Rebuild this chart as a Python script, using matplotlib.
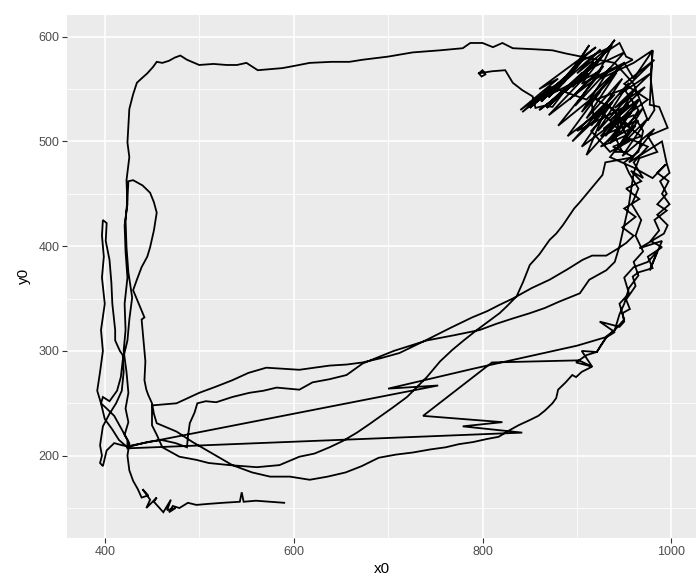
import numpy as np
import matplotlib
matplotlib.use("Agg")
import matplotlib.pyplot as plt

# ---- data: trajectory, in path order ----
seg_start = [(796,565),(799,562),(803,564),(800,568),(796,565),(810,567),(824,568),(828,562),(832,556),
             (842,549),(853,543),(856,532),(865,534),(874,533),
             (890,552),(868,532),(900,560),(872,538),(906,566),(878,540),(912,570),(884,546),(918,576),
             (888,548),(925,580),(895,552),(930,585),(900,556),(922,566),(892,540),(928,572),(898,534),
             (935,570),(905,528),(942,566),(910,522),(948,560),(915,515),(955,556),(922,510),(960,548),
             (930,505),(966,540),(935,498),(970,532),(942,492),(975,522),(948,486),(982,512),(955,480),
             (990,500),(995,479)]

seg_curve_b = [(998,470),(988,462),(995,450),(985,440),(995,434),(982,425),(987,415),(978,405),(990,399),
               (975,390),(980,379),(965,375),(959,371),(962,362),(959,358),(952,349),(956,340),(948,336),
               (950,328),(945,323),(924,328),(940,318),(931,313),(925,305),(921,299),(910,296),(899,289),
               (916,285),(905,280),(899,275),(895,277),(888,270),(880,263),(878,255),(874,250),(866,243),
               (859,238),(850,234),(838,229),(828,224),(817,218),(805,216),(790,213),(775,211),(761,208),
               (745,206),(726,203),(708,201),(690,198),(672,190),(655,184),(636,180),(617,177),(596,180),
               (575,180),(556,184),(535,191),(514,202),(493,213),(476,223),(463,228),(455,231)]

seg_left1 = [(452,240),(450,250),(446,258),(444,263),(442,272),(443,290),(441,310),(439,330),(442,332),
             (436,345),(430,358),(434,368),(439,380),(445,390),(448,399),(452,415),(455,432),(452,442),
             (448,451),(440,458),(430,463),(425,462),(424,445),(422,425),(423,399),(425,375),(429,351),
             (426,330),(424,310),(419,291),(417,275),(413,262),(405,252),(398,256),(396,250),(402,245),
             (410,238),(418,225),(424,215),(424,207)]

seg_right2 = [(842,222),(779,228),(821,232),(737,238),(810,289),(902,291),(916,285),(905,300),(921,299),
              (931,313),(940,320),(945,335),(950,345),(955,360),(965,372),(960,385),(970,395),(962,410),
              (968,425),(958,440),(965,455),(955,470),(950,480),(965,490),(970,510),(960,525),(945,520),
              (940,505),(948,490),
              (940,490),(962,515),(932,500),(958,528),(928,512),(965,540),(935,520),(972,552),(940,532),
              (978,565),(945,545),(982,578),(950,555),(975,540),(945,520),(968,505),(938,495),(960,485),
              (930,480),(927,468)]

seg_curve_a = [(915,455),(903,442),(897,436),(885,420),(878,412),(871,406),(860,392),(850,382),(843,366),
               (836,352),(825,342),(818,336),(806,328),(794,320),(780,310),(768,301),(755,290),(741,275),
               (730,265),(720,256),(705,246),(691,237),(680,230),(667,222),(652,214),(638,208),(622,202),
               (606,199),(585,191),(561,189),(532,191),(510,193),(497,196),(479,199),(461,208),(455,220),
               (450,229),(450,248)]

seg_curve_c = [(463,249),(476,250),(488,255),(500,260),(518,266),(535,272),(552,279),(571,284),(588,283),
               (606,282),(622,284),(638,286),(656,287),(673,289),(692,293),(712,298),(728,305),(744,312),
               (766,322),(789,332),(805,338),(818,344),(832,350),(852,360),(871,368),(890,378),(906,387),
               (916,391),(931,391),(942,397),(952,403),(960,410),(948,418),(962,428),(950,436),(966,445),
               (952,455),(968,462),(957,472),(970,465),(960,480),(975,495),(950,505),
               (925,495),(945,510),(930,525),(915,510),(935,490),(955,500),(940,530),(920,540),(950,550),
               (965,530),(955,515),(932,535),(918,522),
               (915,540),(950,575),(905,555),(940,597),(930,585),(945,594),(952,581),(959,578),(920,560),
               (937,592),(900,565),(925,588),(890,560),(913,592),(885,555),(908,580),(878,548),(900,575),
               (870,542),(895,568),(862,538),(888,562),(850,532),(880,555),(842,528),(872,552),(910,540),
               (950,575),(960,560),(975,580),(980,587),(977,535),(987,533),(996,513),(975,505),(985,490),
               (966,484),(960,470),(955,440),(950,420),(945,400),(940,385),(931,377)]

seg_curve_c2 = [(913,368),(903,355),(892,351),(881,347),(866,341),(850,336),(832,331),(815,326),(797,320),
                (770,315),(741,310),(706,300),(673,288),(656,277),(638,273),(620,270),(606,263),(594,264),
                (582,265),(568,262),(553,260),(535,256),(518,251),(507,252),(498,250),(495,241),(490,231),
                (488,218),(487,208),(475,212),(460,215),(445,213),(432,210),(424,208),
                (415,215),(408,225),(400,235),(396,250),(392,262),(395,280),(398,300),(396,320),(400,345),
                (397,370),(399,390),(397,410),(398,425),(402,422),(401,405),(405,387),(407,365),(408,345),
                (411,320),(411,310),(416,300),(419,296),(420,280),(418,262),(412,250),(405,240),(398,228),
                (395,210),(397,200),(395,193),(398,190),(402,205),(410,212),(418,210),(424,209)]

seg_right4 = [(753,267),(700,264),(790,283),(880,301),(900,305),(930,313),(940,320),(950,330),(945,345),
              (955,355),(950,370),(960,380),(975,385),(985,395),(977,377),(990,405),(966,398),(992,412),
              (996,420),(985,430),(998,440),(990,450),(997,462),(985,470),(994,478),(980,465),(960,475),
              (935,485),(965,520),(925,505),(955,535),(900,510),(940,545),(895,500),(930,530),(910,487),
              (945,522),(905,495),(938,538),(890,505),(925,548),(880,515),(920,560),(870,525),(912,565),
              (860,530),(905,560),(850,535),(895,565),(840,530),(880,560),(860,550),(920,590),(900,575),
              (935,590),(915,570),(950,585),(925,560),(960,575),(980,587),(978,560),(982,530),(975,520),
              (960,555),(940,575),(910,580),(888,584)]

seg_top = [(874,587),(855,588),(832,589),(821,594),(811,590),(800,594),(787,594),(779,589),(755,587),
           (726,585),(700,581),(673,578),(659,576),(640,576),(617,575),(600,572),(588,570),(575,569),
           (562,568),(550,575),(540,573),(529,573),(515,574),(500,573),(487,578),(480,582),(474,580),
           (468,577),(461,575),(455,576),(451,571),(445,565),(440,561),(434,556),(430,545),(426,531),
           (425,515),(424,499),(426,485),(423,463),(424,440),(421,420),(422,395),(424,370),(421,345),
           (422,320),(420,300),(423,280),(425,260),(422,245),(425,232),(421,220),(426,212),(424,200),
           (426,186),(430,176),(435,168),(439,160),(446,162),(440,168),(448,158),(444,150),(455,160),
           (452,156),(462,146),(470,158),(466,148),(475,150),(468,146),(472,152),(479,150),(488,155),
           (497,153),(510,154),(525,155),(543,156),(545,165),(547,156),(560,157),(575,156),(590,155)]

segments = [seg_start, seg_curve_b, seg_left1, seg_right2, seg_curve_a, seg_curve_c,
            seg_curve_c2, seg_right4, seg_top]
path = np.array([p for s in segments for p in s], dtype=float)
x0 = path[:, 0]
y0 = path[:, 1]

x_major = [400, 600, 800, 1000]
x_minor = [500, 700, 900]
y_major = [200, 300, 400, 500, 600]
y_minor = [150, 250, 350, 450, 550]

# ---- figure ----
fig = plt.figure(figsize=(6.96, 5.79), dpi=100)
ax = fig.add_axes([67/696, 41/579, (696-67)/696, (538-14.7)/579])
ax.set_facecolor("#EBEBEB")
for s in ax.spines.values():
    s.set_visible(False)

ax.set_xlim(360, 1026)
ax.set_ylim(121.4, 621)

for v in x_minor:
    ax.axvline(v, color="white", lw=0.6, zorder=0)
for v in y_minor:
    ax.axhline(v, color="white", lw=0.6, zorder=0)
for v in x_major:
    ax.axvline(v, color="white", lw=1.2, zorder=0)
for v in y_major:
    ax.axhline(v, color="white", lw=1.2, zorder=0)

ax.plot(x0, y0, color="black", lw=1.3, solid_joinstyle="miter", zorder=2)

ax.set_xticks(x_major)
ax.set_yticks(y_major)
ax.set_xticklabels([str(v) for v in x_major])
ax.set_yticklabels([str(v) for v in y_major])
ax.tick_params(axis="both", length=3.5, width=0.8, color="#333333",
               labelcolor="#4D4D4D", labelsize=9, pad=2)
for lab in ax.get_xticklabels() + ax.get_yticklabels():
    lab.set_family("Liberation Sans")

ax.set_xlabel("x0", fontsize=11, family="Liberation Sans", labelpad=3)
ax.set_ylabel("y0", fontsize=11, family="Liberation Sans", labelpad=5)

fig.savefig("out.png", dpi=100)
